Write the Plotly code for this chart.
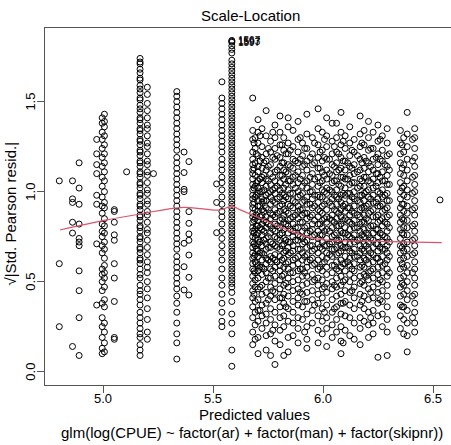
import plotly.graph_objects as go

# ---- data ----
col_x = [4.80, 4.86, 4.89, 4.97, 4.995, 5.005, 5.05, 5.106, 5.167, 5.20, 5.228,
         5.334, 5.367, 5.389, 5.515, 5.539, 5.584,
         5.679, 5.690, 5.695, 5.703, 5.721, 5.73, 5.740, 5.760, 5.780, 5.79, 5.803, 5.820,
         5.840, 5.85, 5.862, 5.873, 5.885, 5.905, 5.925, 5.94, 5.950, 5.976, 5.985, 5.995,
         6.015, 6.028, 6.040, 6.060, 6.07, 6.080, 6.099, 6.11, 6.120, 6.140, 6.155, 6.167,
         6.185, 6.195, 6.205, 6.226, 6.24, 6.248, 6.268, 6.28, 6.290,
         6.350, 6.365, 6.381, 6.415, 6.53]
col_y = [
    [1.06, 0.60, 0.25],
    [1.06, 0.96, 0.94, 0.83, 0.77, 0.14],
    [1.16, 1.02, 0.93, 0.82, 0.74, 0.72, 0.70, 0.56, 0.45, 0.30, 0.09],
    [1.29, 1.21, 1.15, 1.10, 0.98, 0.93, 0.71, 0.37],
    [1.41, 1.38, 1.33, 1.29, 1.24, 1.19, 1.14, 1.08, 1.03, 0.97, 0.92, 0.88, 0.82, 0.78, 0.75,
     0.70, 0.66, 0.57, 0.54, 0.50, 0.45, 0.38, 0.30, 0.25, 0.19, 0.13, 0.10],
    [1.43, 1.39, 1.36, 1.31, 1.26, 1.21, 1.16, 1.11, 1.06, 1.00, 0.94, 0.91, 0.85, 0.81, 0.77,
     0.72, 0.68, 0.63, 0.59, 0.55, 0.52, 0.47, 0.40, 0.36, 0.27, 0.22, 0.16, 0.11],
    [0.90, 0.89, 0.83, 0.76, 0.73, 0.60, 0.52, 0.39, 0.19, 0.18],
    [1.11],
    [1.74, 1.72, 1.71, 1.68, 1.66, 1.63, 1.62, 1.59, 1.57, 1.55, 1.52, 1.51, 1.48, 1.46, 1.44,
     1.41, 1.40, 1.38, 1.35, 1.34, 1.32, 1.29, 1.28, 1.26, 1.23, 1.22, 1.20, 1.17, 1.16, 1.14,
     1.11, 1.10, 1.08, 1.05, 1.04, 1.02, 0.99, 0.98, 0.96, 0.93, 0.92, 0.90, 0.87, 0.86, 0.84,
     0.81, 0.80, 0.78, 0.75, 0.74, 0.72, 0.69, 0.68, 0.66, 0.63, 0.62, 0.60, 0.57, 0.54, 0.52,
     0.48, 0.45, 0.43, 0.40, 0.37, 0.33, 0.30, 0.27, 0.24, 0.21, 0.19, 0.15, 0.12, 0.09],
    [1.58, 1.54, 1.49, 1.45, 1.41, 1.37, 1.35, 1.31, 1.27, 1.25, 1.21, 1.17, 1.15, 1.11, 1.09,
     1.05, 1.01, 0.99, 0.95, 0.93, 0.89, 0.87, 0.83, 0.79, 0.77, 0.73, 0.69, 0.65, 0.61, 0.58,
     0.55, 0.50, 0.46, 0.41, 0.35, 0.29, 0.22, 0.18],
    [1.10],
    [1.556, 1.53, 1.50, 1.47, 1.44, 1.41, 1.38, 1.35, 1.32, 1.29, 1.26, 1.23, 1.19, 1.16, 1.13,
     1.10, 1.07, 1.04, 1.01, 0.98, 0.95, 0.92, 0.89, 0.86, 0.83, 0.80, 0.77, 0.74, 0.71, 0.68,
     0.64, 0.61, 0.58, 0.55, 0.52, 0.49, 0.46, 0.42, 0.38, 0.33, 0.27, 0.21, 0.16, 0.07],
    [1.22, 1.106, 1.013, 1.0, 0.713, 0.583, 0.454],
    [1.167, 0.889, 0.824, 0.765, 0.73, 0.648, 0.524, 0.426],
    [1.043, 0.94, 0.772],
    [1.61, 1.52, 1.49, 1.46, 1.43, 1.40, 1.37, 1.34, 1.31, 1.28, 1.25, 1.22, 1.18, 1.15, 1.12,
     1.08, 1.05, 1.01, 0.97, 0.93, 0.89, 0.86, 0.82, 0.78, 0.74, 0.70, 0.66, 0.62, 0.57, 0.52,
     0.48, 0.43, 0.38, 0.33, 0.28, 0.25],
    [1.84, 1.835, 1.83, 1.81, 1.79, 1.77, 1.73, 1.71, 1.69, 1.67, 1.65, 1.63, 1.61, 1.59, 1.57,
     1.55, 1.53, 1.51, 1.49, 1.47, 1.45, 1.43, 1.41, 1.39, 1.37, 1.35, 1.33, 1.31, 1.29, 1.27,
     1.25, 1.23, 1.21, 1.19, 1.17, 1.15, 1.13, 1.11, 1.09, 1.07, 1.05, 1.03, 1.01, 0.99, 0.97,
     0.95, 0.93, 0.91, 0.89, 0.87, 0.85, 0.83, 0.81, 0.79, 0.77, 0.75, 0.73, 0.71, 0.69, 0.67,
     0.65, 0.63, 0.61, 0.59, 0.57, 0.55, 0.53, 0.51, 0.49, 0.47, 0.44, 0.39, 0.32, 0.27, 0.21,
     0.12, 0.03],
    [1.52, 1.34, 1.29, 1.22, 1.18, 1.15, 1.12, 1.10, 1.07, 1.04, 1.01, 0.98, 0.96, 0.93, 0.91,
     0.88, 0.86, 0.83, 0.80, 0.78, 0.75, 0.72, 0.69, 0.66, 0.63, 0.60, 0.57, 0.53, 0.49, 0.45,
     0.41, 0.36, 0.30, 0.22, 0.15],
    [1.30, 1.24, 1.16, 1.09, 1.03, 0.97, 0.90, 0.85, 0.79, 0.74, 0.70, 0.65, 0.61, 0.55, 0.51,
     0.47, 0.39, 0.33, 0.26, 0.18],
    [1.21, 1.05, 0.98, 0.87, 0.81, 0.76, 0.68, 0.60],
    [1.40, 1.33, 1.27, 1.20, 1.14, 1.11, 1.06, 1.02, 0.99, 0.95, 0.92, 0.89, 0.84, 0.81, 0.77,
     0.73, 0.71, 0.67, 0.64, 0.59, 0.56, 0.52, 0.46, 0.40, 0.34, 0.28, 0.19, 0.10],
    [1.35, 1.25, 1.19, 1.13, 1.08, 1.05, 1.00, 0.96, 0.94, 0.90, 0.87, 0.82, 0.79, 0.76, 0.70,
     0.66, 0.62, 0.58, 0.54, 0.48, 0.43, 0.37, 0.31, 0.24],
    [1.16, 1.09, 1.01, 0.95, 0.89, 0.84, 0.78, 0.73, 0.65, 0.57],
    [1.45, 1.31, 1.21, 1.17, 1.12, 1.07, 1.03, 0.98, 0.95, 0.91, 0.86, 0.83, 0.80, 0.74, 0.71,
     0.68, 0.63, 0.60, 0.55, 0.50, 0.44, 0.38, 0.32, 0.27, 0.20, 0.12],
    [1.28, 1.22, 1.15, 1.10, 1.04, 1.00, 0.97, 0.93, 0.88, 0.85, 0.81, 0.77, 0.72, 0.69, 0.64,
     0.61, 0.57, 0.52, 0.47, 0.42, 0.35, 0.29, 0.21, 0.09],
    [1.37, 1.30, 1.24, 1.18, 1.11, 1.06, 1.02, 0.99, 0.94, 0.90, 0.86, 0.82, 0.78, 0.75, 0.70,
     0.65, 0.62, 0.58, 0.53, 0.49, 0.44, 0.40, 0.33, 0.26, 0.17, 0.04],
    [1.20, 1.12, 1.03, 0.96, 0.88, 0.81, 0.74, 0.69, 0.61],
    [1.42, 1.33, 1.26, 1.19, 1.14, 1.09, 1.05, 1.01, 0.97, 0.92, 0.89, 0.84, 0.80, 0.76, 0.73,
     0.68, 0.64, 0.59, 0.56, 0.51, 0.46, 0.41, 0.36, 0.30, 0.23, 0.15],
    [1.30, 1.23, 1.16, 1.12, 1.07, 1.02, 0.98, 0.95, 0.90, 0.87, 0.83, 0.79, 0.74, 0.71, 0.66,
     0.63, 0.58, 0.54, 0.48, 0.43, 0.38, 0.31, 0.25, 0.09],
    [1.41, 1.36, 1.27, 1.21, 1.15, 1.10, 1.06, 1.01, 0.96, 0.93, 0.88, 0.84, 0.81, 0.77, 0.72,
     0.69, 0.65, 0.61, 0.57, 0.52, 0.47, 0.42, 0.35, 0.28, 0.19, 0.11],
    [1.23, 1.14, 1.06, 0.99, 0.92, 0.85, 0.79, 0.72, 0.66, 0.55],
    [1.34, 1.25, 1.18, 1.13, 1.08, 1.04, 0.99, 0.95, 0.91, 0.86, 0.82, 0.78, 0.75, 0.70, 0.67,
     0.62, 0.59, 0.55, 0.50, 0.45, 0.39, 0.33, 0.27, 0.20],
    [1.17, 1.09, 1.02, 0.94, 0.87, 0.80, 0.73, 0.63],
    [1.39, 1.29, 1.22, 1.16, 1.11, 1.05, 1.00, 0.97, 0.92, 0.89, 0.85, 0.80, 0.76, 0.73, 0.68,
     0.64, 0.60, 0.56, 0.51, 0.46, 0.41, 0.37, 0.30, 0.24, 0.16],
    [1.27, 1.20, 1.14, 1.09, 1.03, 0.99, 0.94, 0.90, 0.87, 0.83, 0.78, 0.74, 0.71, 0.66, 0.62,
     0.57, 0.53, 0.48, 0.43, 0.36, 0.29],
    [1.43, 1.32, 1.24, 1.17, 1.12, 1.06, 1.02, 0.97, 0.93, 0.88, 0.85, 0.81, 0.77, 0.73, 0.69,
     0.65, 0.61, 0.58, 0.53, 0.49, 0.44, 0.39, 0.32, 0.25, 0.18, 0.13],
    [1.19, 1.08, 1.00, 0.93, 0.86, 0.78, 0.70, 0.62],
    [1.30, 1.21, 1.15, 1.10, 1.04, 1.00, 0.96, 0.91, 0.87, 0.82, 0.79, 0.75, 0.70, 0.67, 0.63,
     0.59, 0.54, 0.50, 0.45, 0.40, 0.34, 0.27],
    [1.46, 1.35, 1.26, 1.19, 1.13, 1.08, 1.03, 0.98, 0.94, 0.90, 0.86, 0.82, 0.78, 0.74, 0.71,
     0.66, 0.62, 0.57, 0.52, 0.48, 0.43, 0.38, 0.31, 0.23, 0.16],
    [1.22, 1.13, 1.05, 0.97, 0.89, 0.82, 0.76, 0.69, 0.58],
    [1.33, 1.23, 1.17, 1.11, 1.06, 1.01, 0.97, 0.92, 0.88, 0.84, 0.80, 0.76, 0.72, 0.68, 0.64,
     0.60, 0.56, 0.51, 0.46, 0.41, 0.35, 0.28, 0.21],
    [1.41, 1.31, 1.25, 1.18, 1.12, 1.07, 1.02, 0.99, 0.95, 0.90, 0.86, 0.83, 0.79, 0.74, 0.70,
     0.66, 0.63, 0.58, 0.54, 0.49, 0.44, 0.37, 0.30, 0.24, 0.14],
    [1.18, 1.10, 1.01, 0.94, 0.85, 0.78, 0.71, 0.65],
    [1.38, 1.28, 1.21, 1.15, 1.09, 1.05, 1.00, 0.96, 0.92, 0.87, 0.84, 0.80, 0.75, 0.72, 0.68,
     0.64, 0.59, 0.55, 0.50, 0.46, 0.40, 0.33, 0.26, 0.19],
    [1.38, 1.30, 1.22, 1.16, 1.11, 1.06, 1.01, 0.97, 0.93, 0.89, 0.85, 0.81, 0.77, 0.73, 0.69,
     0.65, 0.61, 0.57, 0.52, 0.47, 0.42, 0.36, 0.29, 0.22],
    [1.21, 1.12, 1.04, 0.96, 0.88, 0.81, 0.73, 0.66, 0.56],
    [1.44, 1.33, 1.26, 1.19, 1.13, 1.08, 1.03, 0.98, 0.94, 0.90, 0.86, 0.82, 0.78, 0.74, 0.70,
     0.67, 0.62, 0.58, 0.53, 0.48, 0.43, 0.38, 0.32, 0.25, 0.17, 0.10],
    [1.31, 1.24, 1.17, 1.12, 1.07, 1.02, 0.98, 0.93, 0.89, 0.85, 0.80, 0.77, 0.72, 0.69, 0.64,
     0.60, 0.56, 0.51, 0.45, 0.39, 0.31, 0.23],
    [1.16, 1.07, 0.99, 0.91, 0.84, 0.76, 0.69, 0.61],
    [1.36, 1.27, 1.20, 1.14, 1.09, 1.04, 0.99, 0.95, 0.91, 0.87, 0.83, 0.79, 0.75, 0.71, 0.67,
     0.63, 0.59, 0.54, 0.50, 0.44, 0.37, 0.30, 0.20],
    [1.29, 1.22, 1.15, 1.10, 1.05, 1.00, 0.96, 0.92, 0.88, 0.84, 0.80, 0.76, 0.72, 0.68, 0.64,
     0.60, 0.56, 0.52, 0.47, 0.41, 0.35, 0.27, 0.18],
    [1.20, 1.11, 1.02, 0.95, 0.87, 0.80, 0.73, 0.64],
    [1.42, 1.32, 1.25, 1.18, 1.12, 1.07, 1.03, 0.98, 0.94, 0.90, 0.86, 0.82, 0.78, 0.74, 0.70,
     0.66, 0.62, 0.58, 0.53, 0.49, 0.43, 0.37, 0.30, 0.24, 0.15],
    [1.34, 1.26, 1.19, 1.13, 1.08, 1.03, 0.99, 0.95, 0.91, 0.87, 0.83, 0.79, 0.75, 0.71, 0.67,
     0.63, 0.58, 0.54, 0.48, 0.42, 0.35, 0.28],
    [1.17, 1.08, 1.00, 0.92, 0.85, 0.77, 0.70, 0.62, 0.53],
    [1.39, 1.30, 1.23, 1.16, 1.11, 1.06, 1.01, 0.97, 0.93, 0.88, 0.84, 0.80, 0.76, 0.72, 0.68,
     0.64, 0.60, 0.55, 0.51, 0.46, 0.40, 0.33, 0.26, 0.19],
    [1.33, 1.24, 1.18, 1.12, 1.07, 1.02, 0.98, 0.94, 0.90, 0.86, 0.81, 0.77, 0.73, 0.69, 0.65,
     0.61, 0.57, 0.52, 0.47, 0.41, 0.34, 0.27, 0.21],
    [1.19, 1.10, 1.03, 0.94, 0.86, 0.79, 0.71, 0.63],
    [1.37, 1.28, 1.21, 1.15, 1.10, 1.05, 1.00, 0.96, 0.92, 0.87, 0.83, 0.79, 0.75, 0.71, 0.67,
     0.63, 0.58, 0.54, 0.49, 0.44, 0.38, 0.31, 0.08],
    [1.31, 1.23, 1.17, 1.11, 1.06, 1.01, 0.97, 0.93, 0.89, 0.85, 0.81, 0.76, 0.72, 0.68, 0.64,
     0.59, 0.55, 0.50, 0.45, 0.39, 0.32, 0.25],
    [1.15, 1.06, 0.98, 0.90, 0.83, 0.75, 0.68, 0.60],
    [1.35, 1.27, 1.20, 1.14, 1.09, 1.04, 0.99, 0.95, 0.91, 0.86, 0.82, 0.78, 0.74, 0.70, 0.66,
     0.62, 0.57, 0.53, 0.48, 0.42, 0.36, 0.29, 0.22, 0.09],
    [1.34, 1.27, 1.21, 1.16, 1.10, 1.05, 1.00, 0.96, 0.91, 0.87, 0.83, 0.79, 0.74, 0.70, 0.66,
     0.62, 0.57, 0.52, 0.47, 0.42, 0.37, 0.31, 0.24],
    [1.30, 1.22, 1.15, 1.09, 1.03, 0.98, 0.93, 0.89, 0.84, 0.80, 0.76, 0.71, 0.67, 0.63, 0.58,
     0.53, 0.48, 0.43, 0.36, 0.29, 0.21],
    [1.44, 1.32, 1.25, 1.18, 1.12, 1.06, 1.01, 0.97, 0.92, 0.88, 0.84, 0.80, 0.76, 0.72, 0.68,
     0.64, 0.59, 0.55, 0.50, 0.45, 0.40, 0.34, 0.27, 0.20, 0.11],
    [1.35, 1.30, 1.24, 1.19, 1.14, 1.09, 1.04, 1.00, 0.95, 0.91, 0.87, 0.82, 0.78, 0.74, 0.70,
     0.66, 0.61, 0.57, 0.52, 0.48, 0.43, 0.38, 0.33, 0.27, 0.22],
    [0.954],
]

# extra points in the dense right-hand cloud
fill_x = [5.685, 5.712, 5.750, 5.770, 5.812, 5.830, 5.895, 5.915, 5.960, 6.005,
          6.050, 6.090, 6.130, 6.175, 6.215, 6.258, 6.300, 6.358, 6.405]
fill_y = [
    [1.27, 1.13, 1.02, 0.94, 0.84, 0.77, 0.71, 0.64, 0.56, 0.43],
    [1.31, 1.17, 1.07, 1.00, 0.92, 0.86, 0.80, 0.72, 0.66, 0.58, 0.47, 0.34],
    [1.24, 1.14, 1.06, 0.99, 0.90, 0.82, 0.75, 0.69, 0.62, 0.52, 0.40],
    [1.33, 1.19, 1.08, 1.01, 0.95, 0.87, 0.79, 0.71, 0.63, 0.56, 0.45, 0.23],
    [1.26, 1.16, 1.09, 0.99, 0.93, 0.85, 0.77, 0.70, 0.62, 0.53, 0.41],
    [1.21, 1.11, 1.04, 0.97, 0.89, 0.82, 0.73, 0.67, 0.60, 0.49, 0.36],
    [1.30, 1.18, 1.07, 0.98, 0.90, 0.83, 0.75, 0.68, 0.57, 0.44],
    [1.24, 1.15, 1.05, 0.95, 0.88, 0.80, 0.72, 0.64, 0.55, 0.39, 0.22],
    [1.27, 1.16, 1.07, 0.98, 0.92, 0.84, 0.76, 0.68, 0.60, 0.51, 0.37],
    [1.29, 1.19, 1.09, 1.00, 0.93, 0.85, 0.78, 0.70, 0.61, 0.47, 0.33],
    [1.25, 1.14, 1.06, 0.98, 0.90, 0.83, 0.76, 0.68, 0.59, 0.48, 0.35],
    [1.28, 1.17, 1.08, 0.99, 0.92, 0.84, 0.77, 0.69, 0.60, 0.50, 0.38, 0.16],
    [1.23, 1.13, 1.05, 0.97, 0.89, 0.82, 0.74, 0.66, 0.57, 0.45],
    [1.27, 1.16, 1.06, 0.98, 0.91, 0.83, 0.76, 0.68, 0.59, 0.50, 0.39],
    [1.24, 1.14, 1.05, 0.96, 0.89, 0.81, 0.74, 0.66, 0.56, 0.44, 0.30],
    [1.29, 1.18, 1.08, 0.99, 0.92, 0.84, 0.77, 0.69, 0.61, 0.51, 0.40],
    [1.21, 1.12, 1.04, 0.95, 0.87, 0.80, 0.72, 0.64, 0.55],
    [1.26, 1.13, 1.02, 0.93, 0.85, 0.77, 0.69, 0.60, 0.49, 0.36],
    [1.29, 1.17, 1.08, 0.99, 0.90, 0.81, 0.73, 0.65, 0.55, 0.42, 0.30],
]

smooth_x = [4.803, 5.015, 5.167, 5.364, 5.53, 5.584, 5.62, 5.712, 5.818, 5.924, 6.0,
            6.152, 6.303, 6.538]
smooth_y = [0.787, 0.843, 0.876, 0.913, 0.898, 0.92, 0.90, 0.852, 0.797, 0.75, 0.732,
            0.726, 0.722, 0.717]

id_labels = ["1567", "1593", "1597"]
id_x = [5.584, 5.584, 5.584]
id_y = [1.84, 1.835, 1.83]

x_ticks = [5.0, 5.5, 6.0, 6.5]
y_ticks = [0.0, 0.5, 1.0, 1.5]

# ---- build ----
xs, ys = [], []
for cx, cy in list(zip(col_x, col_y)) + list(zip(fill_x, fill_y)):
    xs += [cx] * len(cy)
    ys += cy

FONT = "Liberation Sans, Arial, sans-serif"
fig = go.Figure()
fig.add_trace(go.Scatter(x=xs, y=ys, mode="markers",
                         marker=dict(symbol="circle-open", size=6, color="black",
                                     line=dict(width=1)),
                         hoverinfo="skip"))
fig.add_trace(go.Scatter(x=smooth_x, y=smooth_y, mode="lines",
                         line=dict(color="#DF536B", width=1.2, shape="spline"),
                         hoverinfo="skip"))

for lab, lx, ly in zip(id_labels, id_x, id_y):
    fig.add_annotation(x=lx, y=ly, text=lab, showarrow=False, xanchor="left",
                       yanchor="middle", xshift=4,
                       font=dict(family=FONT, size=10, color="black"))

# tick labels (placed like R's axis labels)
for v in x_ticks:
    fig.add_annotation(x=v, xref="x", yref="paper", y=-0.038, text="%.1f" % v,
                       showarrow=False, xanchor="center", yanchor="middle",
                       font=dict(family=FONT, size=13, color="black"))
for v in y_ticks:
    fig.add_annotation(y=v, yref="y", xref="paper", x=-0.0345, text="%.1f" % v,
                       textangle=-90, showarrow=False, xanchor="center", yanchor="middle",
                       font=dict(family=FONT, size=13, color="black"))

anns = [
    dict(text="Scale-Location", x=0.507, y=1.036, size=15),
    dict(text="Predicted values", x=0.517, y=-0.083, size=15),
    dict(text="glm(log(CPUE) ~ factor(ar) + factor(man) + factor(skipnr))",
         x=0.511, y=-0.134, size=15),
]
for a in anns:
    fig.add_annotation(xref="paper", yref="paper", x=a["x"], y=a["y"], text=a["text"],
                       showarrow=False, xanchor="center", yanchor="middle",
                       font=dict(family=FONT, size=a["size"], color="black"))
fig.add_annotation(xref="paper", yref="paper", x=-0.084, y=0.48,
                   text="√|Std. Pearson resid.|", textangle=-90, showarrow=False,
                   xanchor="center", yanchor="middle",
                   font=dict(family=FONT, size=15, color="black"))

fig.update_layout(
    width=451, height=445,
    margin=dict(l=45, r=0, t=28, b=60),
    paper_bgcolor="white", plot_bgcolor="white",
    showlegend=False,
    xaxis=dict(range=[4.735, 6.580], showgrid=False, zeroline=False,
               showline=True, mirror=True, linecolor="#555", linewidth=1,
               ticks="outside", ticklen=7, tickcolor="#555",
               tickvals=x_ticks, showticklabels=False),
    yaxis=dict(range=[-0.074, 1.909], showgrid=False, zeroline=False,
               showline=True, mirror=False, linecolor="#555", linewidth=1,
               ticks="outside", ticklen=7, tickcolor="#555",
               tickvals=y_ticks, showticklabels=False),
)

fig.write_html("out.html")
